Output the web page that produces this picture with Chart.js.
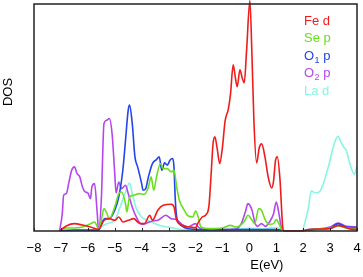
<!DOCTYPE html>
<html>
<head>
<meta charset="utf-8">
<script src="https://cdn.jsdelivr.net/npm/chart.js@4"></script>
<style>
    html, body { margin: 0; padding: 0; background: #fff; }
    #wrap { width: 363px; height: 277px; position: relative; }
</style>
</head>
<body>
<div id="wrap"><canvas id="dos-canvas"></canvas></div>
<script>
// energy axis ticks (eV)
var xTicks = [-8, -7, -6, -5, -4, -3, -2, -1, 0, 1, 2, 3, 4];

// Fe d
var feE = [-7.05, -6.8, -6.5, -6.2, -5.9, -5.6, -5.4, -5.2, -5.0, -4.85, -4.7, -4.5, -4.3, -4.1, -3.9, -3.7, -3.6, -3.4, -3.2, -2.9,
    -2.8, -2.7, -2.5, -2.2, -2.0, -1.9, -1.75, -1.6, -1.5, -1.42, -1.35, -1.28, -1.2, -1.1, -1.0, -0.9, -0.78, -0.7, -0.6, -0.52,
    -0.45, -0.35, -0.27, -0.19, -0.1, 0.02, 0.1, 0.17, 0.27, 0.37, 0.46, 0.58, 0.7, 0.83, 0.9, 0.97, 1.04, 1.14, 1.24, 1.29,
    1.95, 2.2, 2.6, 3.0, 3.3, 3.7, 4.0];
var feDos = [0, 0.15, 0.22, 0.18, 0.12, 0.05, 0.32, 0.37, 0.32, 0.42, 0.27, 0.32, 0.37, 0.24, 0.22, 0.47, 0.32, 0.62, 0.77, 0.8,
    0.72, 0.32, 0.17, 0.12, 0.1, 0.25, 0.42, 0.5, 0.75, 1.7, 2.6, 2.82, 2.5, 2.02, 2.5, 3.3, 3.65, 4.1, 4.98, 4.6,
    4.32, 4.83, 4.6, 4.44, 5.43, 6.9, 5.2, 3.3, 2.04, 2.5, 2.61, 2.22, 1.62, 1.29, 1.5, 2.1, 2.22, 1.53, 0.12, 0,
    0, 0.04, 0.06, 0.07, 0.17, 0.07, 0.04];

// Se p
var seE = [-7.05, -6.8, -6.5, -6.2, -5.9, -5.75, -5.6, -5.5, -5.4, -5.3, -5.2, -5.0, -4.85, -4.75, -4.6, -4.55, -4.45, -4.3, -4.1, -3.9,
    -3.75, -3.65, -3.55, -3.45, -3.3, -3.2, -3.05, -2.9, -2.8, -2.7, -2.6, -2.45, -2.3, -2.1, -2.0, -1.9, -1.8, -1.5, -1.0, -0.7,
    -0.5, -0.2, -0.05, 0.1, 0.2, 0.35, 0.45, 0.6, 0.75, 0.9, 1.0, 1.1, 1.2, 1.3, 1.95, 2.3, 3.0, 3.3, 3.6, 4.0];
var seDos = [0.02, 0.09, 0.09, 0.12, 0.22, 0.27, 0.07, 0.32, 0.67, 0.54, 0.37, 0.72, 1.12, 1.17, 0.82, 0.57, 1.02, 1.07, 1.12, 1.1,
    1.32, 1.62, 1.22, 1.62, 2.02, 1.87, 1.87, 1.77, 1.82, 1.32, 0.92, 0.67, 0.47, 0.42, 0.6, 0.42, 0.12, 0.07, 0.09, 0.17,
    0.12, 0.27, 0.47, 0.32, 0.22, 0.67, 0.62, 0.32, 0.2, 0.22, 0.34, 0.22, 0.04, 0, 0, 0.04, 0.09, 0.15, 0.09, 0.07];

// O1 p
var o1E = [-7.05, -6.5, -6.0, -5.6, -5.5, -5.35, -5.2, -5.0, -4.85, -4.7, -4.6, -4.5, -4.45, -4.35, -4.25, -4.15, -4.0, -3.95, -3.85, -3.75,
    -3.6, -3.45, -3.35, -3.25, -3.15, -3.05, -2.95, -2.85, -2.8, -2.75, -2.7, -2.6, -2.4, -2.0, -1.5, -1.0, 0, 1.0, 1.2, 1.3,
    1.95, 2.2, 3.0, 3.3, 3.6, 4.0];
var o1Dos = [0, 0.03, 0.03, 0.02, 0.22, 0.37, 0.37, 0.62, 1.02, 1.82, 2.72, 3.62, 3.77, 3.22, 2.22, 1.92, 1.42, 1.22, 1.27, 1.62,
    2.02, 2.14, 2.22, 1.82, 2.04, 1.97, 2.12, 2.17, 1.92, 0.92, 0.42, 0.22, 0.1, 0.05, 0.04, 0.04, 0.04, 0.04, 0.03, 0,
    0, 0.04, 0.09, 0.22, 0.12, 0.1];

// O2 p
var o2E = [-7.05, -6.95, -6.9, -6.8, -6.7, -6.6, -6.5, -6.4, -6.3, -6.2, -6.1, -6.0, -5.9, -5.85, -5.75, -5.65, -5.6, -5.5, -5.4, -5.3,
    -5.2, -5.1, -5.0, -4.95, -4.85, -4.75, -4.6, -4.5, -4.35, -4.2, -4.0, -3.8, -3.6, -3.4, -3.1, -2.9, -2.7, -2.5, -2.3, -2.0,
    -1.9, -1.7, -1.0, -0.5, -0.3, -0.15, -0.05, 0.1, 0.2, 0.3, 0.45, 0.6, 0.75, 0.9, 1.0, 1.1, 1.2, 1.3, 1.95, 2.3,
    3.0, 3.3, 3.6, 4.0];
var o2Dos = [0, 0.52, 1.07, 1.12, 1.47, 1.82, 1.92, 1.72, 1.62, 1.32, 1.17, 1.14, 0.97, 1.32, 1.42, 0.52, 0.02, 0.92, 3.22, 3.32,
    3.37, 2.92, 1.72, 1.14, 1.47, 1.27, 1.37, 1.12, 0.72, 0.42, 0.2, 0.24, 0.3, 0.32, 0.47, 0.37, 0.34, 0.2, 0.12, 0.22,
    0.12, 0.04, 0.04, 0.06, 0.22, 0.57, 0.82, 0.62, 0.27, 0.14, 0.22, 0.14, 0.27, 0.52, 0.87, 0.52, 0.07, 0, 0, 0.04,
    0.12, 0.24, 0.14, 0.12];

// La d
var laE = [-7.05, -6.0, -5.6, -5.5, -5.3, -5.0, -4.8, -4.6, -4.45, -4.35, -4.2, -4.0, -3.8, -3.5, -3.2, -2.9, -2.5, -2.0, -1.0, 0,
    0.5, 1.0, 1.2, 1.3, 1.95, 2.1, 2.2, 2.3, 2.45, 2.6, 2.75, 2.9, 3.0, 3.1, 3.2, 3.3, 3.4, 3.5, 3.6, 3.7,
    3.8, 3.9, 4.0];
var laDos = [0.02, 0.03, 0.03, 0.12, 0.22, 0.32, 0.72, 1.17, 1.44, 1.12, 0.67, 0.42, 0.32, 0.22, 0.14, 0.1, 0.04, 0.02, 0.03, 0.08,
    0.06, 0.1, 0.03, 0, 0, 0.37, 0.72, 1.2, 1.14, 1.17, 1.42, 1.82, 2.12, 2.47, 2.72, 2.84, 2.67, 2.52, 2.42, 2.12,
    1.85, 1.7, 1.95];

var seriesNames = ['Fe d', 'Se p', 'O_1 p', 'O_2 p', 'La d'];
var seriesColors = ['#f01c1c', '#68e01e', '#2444ec', '#b446ee', '#86f6e2'];

var FONT = '"Liberation Sans", Arial, Helvetica, sans-serif';

function pairs(xs, ys) {
    return xs.map(function (x, i) {
        return { x: x, y: ys[i] };
    });
}

function makeSet(i, xs, ys) {
    return {
        label: seriesNames[i],
        data: pairs(xs, ys),
        borderColor: seriesColors[i],
        borderWidth: 1.6,
        pointRadius: 0,
        cubicInterpolationMode: 'monotone',
        clip: i === 0 ? false : undefined,
        order: i,
    };
}

var decor = {
    id: 'decor',
    afterDatasetsDraw: function (chart) {
        var ctx = chart.ctx;
        var a = chart.chartArea;
        var xs = chart.scales.x;
        ctx.save();

        // inward tick marks on the energy axis
        ctx.strokeStyle = '#222';
        ctx.lineWidth = 1;
        xTicks.forEach(function (v) {
            var px = Math.round(xs.getPixelForValue(v)) + 0.5;
            ctx.beginPath();
            ctx.moveTo(px, a.bottom);
            ctx.lineTo(px, a.bottom - 3);
            ctx.stroke();
        });

        // frame
        ctx.lineWidth = 1.5;
        ctx.strokeRect(a.left, a.top, a.right - a.left, a.bottom - a.top);

        // legend: coloured text only
        ctx.textBaseline = 'middle';
        ctx.textAlign = 'left';
        seriesNames.forEach(function (name, i) {
            var x = a.right - 53;
            var y = a.top + 17 + i * 17.6;
            ctx.fillStyle = seriesColors[i];
            ctx.font = '13px ' + FONT;
            var parts = name.split('_');
            if (parts.length === 1) {
                ctx.fillText(name, x, y);
                return;
            }
            ctx.fillText(parts[0], x, y);
            x += ctx.measureText(parts[0]).width;
            ctx.font = '9px ' + FONT;
            ctx.fillText(parts[1].charAt(0), x + 0.5, y + 4);
            x += ctx.measureText(parts[1].charAt(0)).width + 0.5;
            ctx.font = '13px ' + FONT;
            ctx.fillText(parts[1].slice(1), x, y);
        });

        // axis titles
        ctx.fillStyle = '#000';
        ctx.font = '13px ' + FONT;
        ctx.textAlign = 'center';
        ctx.fillText('E(eV)', xs.getPixelForValue(0.65), 265);

        ctx.translate(8.5, 92);
        ctx.rotate(-Math.PI / 2);
        ctx.fillText('DOS', 0, 0);

        ctx.restore();
    },
};

new Chart(document.getElementById('dos-canvas'), {
    type: 'line',
    data: {
        datasets: [
            makeSet(0, feE, feDos),
            makeSet(1, seE, seDos),
            makeSet(2, o1E, o1Dos),
            makeSet(3, o2E, o2Dos),
            makeSet(4, laE, laDos),
        ],
    },
    options: {
        responsive: true,
        maintainAspectRatio: false,
        animation: false,
        layout: { padding: { left: 34, right: 6, top: 4, bottom: 0 } },
        plugins: {
            legend: { display: false },
            tooltip: { enabled: false },
        },
        scales: {
            x: {
                type: 'linear',
                min: -8,
                max: 4,
                afterBuildTicks: function (scale) {
                    scale.ticks = xTicks.map(function (v) {
                        return { value: v };
                    });
                },
                afterFit: function (scale) {
                    scale.height = 46;
                },
                ticks: {
                    color: '#000',
                    font: { family: FONT, size: 13 },
                    padding: 2,
                    maxRotation: 0,
                    autoSkip: false,
                    callback: function (v) {
                        return String(v).replace('-', '\u2212');
                    },
                },
                grid: { display: false },
                border: { display: false },
            },
            y: {
                display: false,
                min: 0,
                max: 6.8,
            },
        },
    },
    plugins: [decor],
});
</script>
</body>
</html>
